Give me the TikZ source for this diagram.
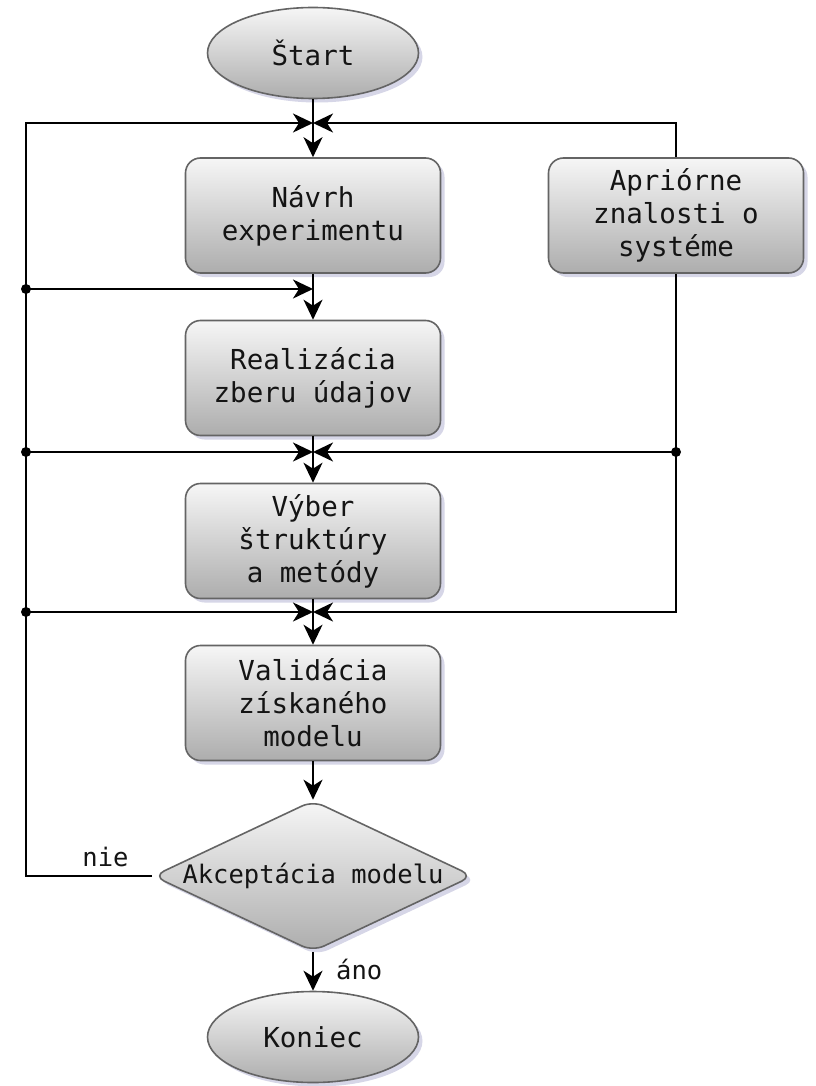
\documentclass[tikz,border=0pt]{standalone}
\usepackage{fontspec}
\setmonofont{DejaVu Sans Mono}
\usetikzlibrary{arrows.meta,shapes.geometric,shadows}

\definecolor{edgegray}{HTML}{646464}
\definecolor{filltop}{HTML}{F6F6F6}
\definecolor{fillbot}{HTML}{ADADAD}
\definecolor{shadecol}{HTML}{C0C0DA}
\definecolor{ink}{HTML}{141414}

\begin{document}
\begin{tikzpicture}[x=1pt,y=-1pt,
  txt/.style={font=\ttfamily\fontsize{27.5}{33}\selectfont, text=ink},
  smalltxt/.style={font=\ttfamily\fontsize{25.5}{31}\selectfont, text=ink},
  shaded/.style={draw=edgegray, line width=1.6pt, top color=filltop, bottom color=fillbot,
    drop shadow={shadow xshift=4pt, shadow yshift=-4pt, fill=shadecol, opacity=0.65}},
  stepbox/.style={shaded, txt, rounded corners=15pt, minimum width=255pt,
    minimum height=115pt, align=center, inner sep=0pt},
  terminal/.style={shaded, txt, ellipse, minimum width=211pt, minimum height=91pt, inner sep=0pt},
  decision/.style={shaded, smalltxt, diamond, aspect=2.1, minimum width=320pt,
    minimum height=151pt, inner sep=0pt, rounded corners=12pt},
  flow/.style={line width=2.3pt, -{Stealth[length=20pt,width=19pt,inset=6pt]}},
  joint/.style={circle, fill=black, inner sep=0pt, minimum size=10pt},
  lbl/.style={smalltxt, inner sep=0pt},
]
\useasboundingbox (0,0) rectangle (815,1086);

% process steps
\node[terminal] (start) at (313,53) {Štart};
\node[stepbox] (navrh) at (313,215.5) {Návrh\\experimentu};
\node[stepbox] (apr) at (676,215.5) {Apriórne\\znalosti o\\systéme};
\node[stepbox] (real) at (313,378) {Realizácia\\zberu údajov};
\node[stepbox] (vyber) at (313,541) {Výber\\štruktúry\\a metódy};
\node[stepbox] (valid) at (313,703) {Validácia\\získaného\\modelu};
\node[decision] (akc) at (313,876) {Akceptácia modelu};
\node[terminal] (end) at (313,1037) {Koniec};

% junction points on the main line
\coordinate (j1) at (313,123);
\coordinate (j2) at (313,289);
\coordinate (j3) at (313,452);
\coordinate (j4) at (313,612);

% feedback bus corners and branch dots
\coordinate (lt) at (26,123);
\coordinate (lb) at (26,876);
\node[joint] (d1) at (26,289) {};
\node[joint] (d2) at (26,452) {};
\node[joint] (d4) at (26,612) {};
\node[joint] (d3) at (676,452) {};

% main flow
\draw[flow] (start) -- (navrh);
\draw[flow] (navrh) -- (real);
\draw[flow] (real) -- (vyber);
\draw[flow] (vyber) -- (valid);
\draw[flow] (valid) -- (akc);
\draw[flow] (akc) -- node[lbl, pos=0.45, anchor=west, xshift=22pt] {áno} (end);

% rejection loop back to the start of the process
\draw[flow] (akc.west) -- node[lbl, pos=0.37, above=8pt] {nie} (lb) -- (lt) -- (j1);
\draw[flow] (d1.center) -- (j2);
\draw[flow] (d2.center) -- (j3);
\draw[flow] (d4.center) -- (j4);

% a priori knowledge feeds
\draw[flow] (apr.north) |- (j1);
\draw[flow] (apr.south) |- (j4);
\draw[flow] (d3.center) -- (j3);
\end{tikzpicture}
\end{document}
